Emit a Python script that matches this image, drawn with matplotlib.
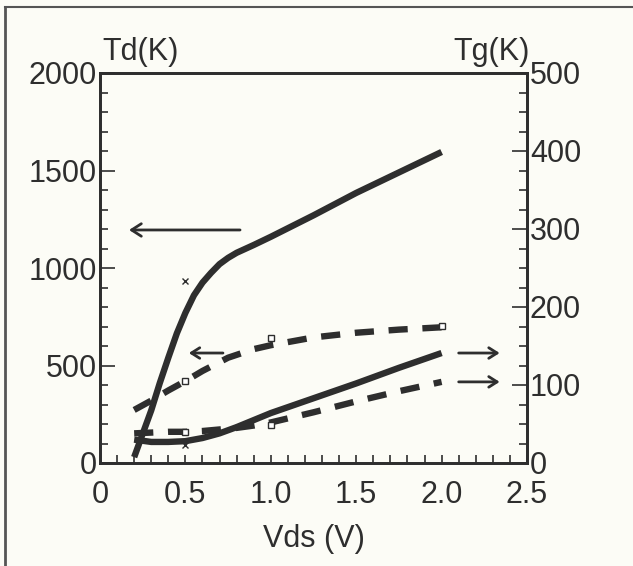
import matplotlib.pyplot as plt
from matplotlib.ticker import MultipleLocator
from matplotlib.lines import Line2D

plt.rcParams['font.family'] = ['Liberation Sans', 'DejaVu Sans']

INK = '#2e2e2e'
BG = '#fcfcf6'

# --- data ---
# Td (left axis), solid line
td_x = [0.2, 0.25, 0.3, 0.35, 0.4, 0.45, 0.5, 0.55, 0.6, 0.65, 0.7, 0.75, 0.8, 0.85,
        0.9, 1.0, 1.25, 1.5, 1.75, 2.0]
td_y = [30, 150, 270, 410, 540, 665, 770, 860, 925, 975, 1020, 1052, 1078, 1098,
        1118, 1160, 1270, 1385, 1490, 1595]

# Tg (right axis), upper dashed
tg_up_x = [0.2, 0.3, 0.4, 0.5, 0.6, 0.75, 0.9, 1.0, 1.25, 1.5, 1.75, 2.0]
tg_up_y = [68, 80, 93, 105, 118, 135, 146, 151, 161, 167, 171, 174]

# Tg (right axis), lower solid
tg_sol_x = [0.2, 0.3, 0.4, 0.5, 0.6, 0.7, 0.8, 0.9, 1.0, 1.25, 1.5, 1.75, 2.0]
tg_sol_y = [30, 27, 27, 28, 32, 38, 46, 55, 64, 83, 102, 122, 141]

# Tg (right axis), lower dashed
tg_lo_x = [0.2, 0.3, 0.4, 0.5, 0.6, 0.7, 0.8, 0.9, 1.0, 1.25, 1.5, 1.75, 2.0]
tg_lo_y = [38, 39, 40, 40, 41, 43, 45, 48, 52, 65, 79, 92, 104]

# measured points
sq_x = [0.5, 1.0, 2.0, 0.5, 1.0]
sq_y = [105, 160, 176, 40, 49]
cross_x = [0.5, 0.5]
cross_y = [933, 92]

fig = plt.figure(figsize=(6.33, 5.66), dpi=100, facecolor=BG)
ax = fig.add_axes([100 / 633, 1 - 463 / 566, 427 / 633, 390 / 566])
ax.set_facecolor('none')
ax2 = ax.twinx()

ax.set_xlim(0, 2.5)
ax.set_ylim(0, 2000)
ax2.set_ylim(0, 500)

LW = 4.6
dash = (3.0, 2.3)

ax.plot(td_x, td_y, color=INK, lw=LW, solid_capstyle='butt', solid_joinstyle='round')
ax.plot(cross_x, cross_y, ls='none', marker='x', ms=4, mew=1, color=INK)

ax2.plot(tg_up_x, tg_up_y, color=INK, lw=LW, dashes=dash, dash_capstyle='butt')
ax2.plot(tg_sol_x, tg_sol_y, color=INK, lw=LW, solid_capstyle='butt', solid_joinstyle='round')
ax2.plot(tg_lo_x, tg_lo_y, color=INK, lw=LW, dashes=dash, dash_capstyle='butt')
ax2.plot(sq_x, sq_y, ls='none', marker='s', ms=4, mew=1, mfc='white', mec=INK)

# arrows pointing to the axis each curve belongs to
arrow_kw = dict(arrowstyle='->,head_length=0.7,head_width=0.45', color=INK, lw=2.0,
                shrinkA=0, shrinkB=0)
small = '->,head_length=0.6,head_width=0.38'
ax.annotate('', xy=(0.17, 1195), xytext=(0.82, 1195), arrowprops=arrow_kw)
ax2.annotate('', xy=(0.52, 141), xytext=(0.72, 141), arrowprops=dict(arrow_kw, arrowstyle=small))
ax2.annotate('', xy=(2.34, 141), xytext=(2.1, 141), arrowprops=dict(arrow_kw, arrowstyle=small))
ax2.annotate('', xy=(2.34, 104), xytext=(2.1, 104), arrowprops=dict(arrow_kw, arrowstyle=small))

# ticks
ax.xaxis.set_ticks([0, 0.5, 1.0, 1.5, 2.0, 2.5])
ax.set_xticklabels(['0', '0.5', '1.0', '1.5', '2.0', '2.5'])
ax.xaxis.set_minor_locator(MultipleLocator(0.1))
ax.yaxis.set_major_locator(MultipleLocator(500))
ax.yaxis.set_minor_locator(MultipleLocator(100))
ax2.yaxis.set_major_locator(MultipleLocator(100))
ax2.yaxis.set_minor_locator(MultipleLocator(25))

ax.tick_params(axis='x', which='both', direction='in', length=6, width=1.2, color=INK,
               labelsize=22, labelcolor=INK, pad=12, top=False)
ax.tick_params(axis='y', which='major', direction='in', length=11, width=1.2, color=INK,
               labelsize=22, labelcolor=INK, pad=2)
ax.tick_params(axis='y', which='minor', direction='in', length=6, width=1.2, color=INK)
ax2.tick_params(axis='y', which='major', direction='in', length=11, width=1.2, color=INK,
                labelsize=22, labelcolor=INK, pad=2)
ax2.tick_params(axis='y', which='minor', direction='in', length=6, width=1.2, color=INK)

for a in (ax, ax2):
    for s in a.spines.values():
        s.set_linewidth(2)
        s.set_color(INK)

ax.set_xlabel('Vds (V)', fontsize=22, color=INK, labelpad=10)

fig.text(102 / 633, 1 - 52 / 566, 'Td(K)', fontsize=22, color=INK, ha='left', va='center')
fig.text(530 / 633, 1 - 52 / 566, 'Tg(K)', fontsize=22, color=INK, ha='right', va='center')

# scanned page frame (top and left edges)
fig.add_artist(Line2D([5 / 633, 1], [1 - 7 / 566, 1 - 7 / 566], transform=fig.transFigure,
                      color='#555555', lw=1.5))
fig.add_artist(Line2D([5 / 633, 5 / 633], [0, 1 - 7 / 566], transform=fig.transFigure,
                      color='#555555', lw=2))

fig.savefig('out.png', dpi=100, facecolor=BG)
